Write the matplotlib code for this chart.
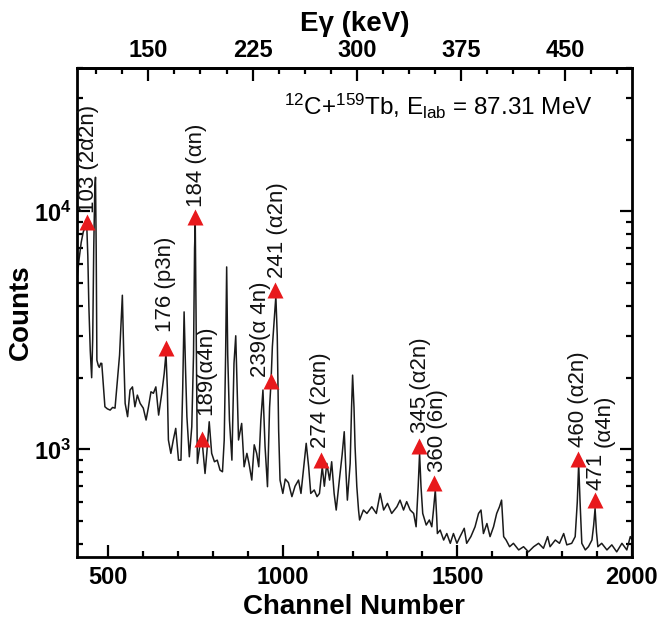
import matplotlib
matplotlib.use('Agg')
import matplotlib.pyplot as plt
from matplotlib.ticker import FixedLocator, MultipleLocator, LogLocator, NullFormatter, FixedFormatter

plt.rcParams['font.family'] = ['Liberation Sans', 'DejaVu Sans']
plt.rcParams['mathtext.default'] = 'regular'

# ---------------- data ----------------
channel = [410, 416, 422, 428, 434, 438, 441, 444, 448, 452, 455, 458, 461, 463, 465, 467,
           471, 474, 478, 481, 485, 490, 497, 505, 512, 519, 526, 532, 536, 540, 544, 548,
           555, 562, 569, 576, 583, 591, 600, 608, 615, 622, 629, 636, 644, 653, 660, 665,
           669, 672, 679, 686, 693, 701, 708, 713, 717, 721, 725, 732, 739, 744, 747, 749,
           751, 755, 763, 770, 777, 782, 789, 796, 804, 812, 820, 827, 832, 836, 839, 842,
           847, 854, 860, 865, 869, 873, 882, 889, 897, 903, 911, 918, 925, 931, 937, 943,
           949, 956, 962, 966, 970, 976, 980, 984, 988, 992, 1000, 1007, 1016, 1026, 1035, 1045,
           1052, 1059, 1067, 1074, 1080, 1090, 1098, 1105, 1113, 1119, 1126, 1134, 1140, 1147, 1153, 1162,
           1170, 1176, 1181, 1185, 1193, 1197, 1200, 1204, 1207, 1212, 1217, 1220, 1231, 1241, 1255, 1268,
           1279, 1289, 1300, 1312, 1327, 1336, 1346, 1355, 1365, 1375, 1382, 1388, 1392, 1396, 1401, 1411,
           1420, 1427, 1432, 1437, 1441, 1443, 1451, 1461, 1470, 1480, 1489, 1499, 1508, 1520, 1527, 1539,
           1551, 1561, 1568, 1575, 1585, 1594, 1604, 1613, 1621, 1627, 1633, 1640, 1650, 1661, 1676, 1690,
           1704, 1719, 1733, 1747, 1759, 1766, 1781, 1793, 1805, 1814, 1828, 1838, 1844, 1848, 1852, 1857,
           1867, 1876, 1886, 1891, 1895, 1899, 1903, 1914, 1929, 1943, 1957, 1972, 1986, 1996, 2000]
counts = [5200, 6300, 7400, 8200, 8600, 8700, 6500, 4000, 2600, 2000, 2900, 7000, 12500, 13900, 7000, 2370,
          2250, 2210, 2300, 2296, 1900, 1510, 1480, 1462, 1500, 1490, 1955, 2490, 3300, 4440, 2500, 1560,
          1372, 1775, 1830, 1510, 1690, 1560, 1490, 1328, 1510, 1745, 1720, 1830, 1393, 1720, 2085, 2530,
          1800, 1095, 962, 1095, 1225, 901, 901, 1800, 3780, 2200, 1372, 931, 1245, 2500, 7000, 8800,
          4000, 873, 1060, 1030, 792, 962, 1306, 962, 887, 901, 818, 805, 1095, 2500, 5840, 2500,
          1328, 901, 2296, 3000, 1800, 1095, 1285, 845, 962, 873, 743, 1045, 962, 845, 1328, 1775,
          1030, 697, 1500, 1900, 2700, 3600, 4400, 3000, 1200, 743, 653, 750, 725, 633, 700, 743,
          653, 818, 1060, 845, 653, 675, 633, 653, 845, 700, 873, 743, 887, 653, 556, 743,
          950, 1186, 800, 612, 873, 1500, 2050, 1500, 1030, 700, 556, 505, 556, 538, 574, 538,
          653, 556, 593, 538, 574, 612, 556, 603, 556, 538, 473, 700, 962, 700, 538, 481,
          505, 473, 560, 675, 520, 443, 458, 416, 443, 403, 443, 403, 430, 466, 403, 430,
          473, 538, 556, 443, 488, 430, 473, 538, 574, 612, 430, 416, 390, 403, 378, 390,
          371, 390, 403, 384, 430, 390, 416, 403, 443, 397, 403, 430, 600, 873, 600, 403,
          378, 390, 416, 480, 565, 450, 390, 403, 378, 397, 371, 403, 378, 430, 420]

peak_labels = ['103 (2\u03b12n)', '184 (\u03b1n)', '176 (p3n)', '189(\u03b14n)', '239(\u03b1 4n)',
               '241 (\u03b12n)', '274 (2\u03b1n)', '345 (\u03b12n)', '360 (6n)', '460 (\u03b12n)',
               '471 (\u03b14n)']
peak_channel = [438, 748.6, 665.4, 768, 965.6, 978, 1110, 1391.6, 1434.6, 1847.5, 1893.4]
peak_counts = [9020, 9460, 2656, 1101, 1940, 4663, 902, 1035, 724, 910, 612]

energy_ticks = [150, 225, 300, 375, 450]
bottom_ticks = [500, 1000, 1500, 2000]
y_ticks = [1e3, 1e4]
y_ticklabels = ['10$^{3}$', '10$^{4}$']

# layout for peak labels (pixels: dx, dy above marker centre; sideways shift of the reaction part)
label_offsets = [(2, 9), (1, 10), (-1, 16), (4, 24), (-10, 4), (2, 12), (-1, 12), (1, 13), (3, 11), (0, 12), (1, 10)]
reaction_shift = [0, 0, 0, 0, 0, 0, 0, 0, 0, 0, 9]

# energy calibration for top axis (channel = a*E + b)
cal_a, cal_b = 3.981, 17.5

# ---------------- figure ----------------
W, H = 659, 631
fig = plt.figure(figsize=(W / 100, H / 100), dpi=100)
ax = fig.add_axes([77 / W, 1 - 557.3 / H, (631.7 - 77) / W, (557.3 - 68) / H])

ax.plot(channel, counts, color='#1a1a1a', lw=1.1)
ax.plot(peak_channel, peak_counts, linestyle='none', marker='^', ms=12, color='#e8191c', mec='none', zorder=5)

px2pt = 72 / 100
lab_fs = 16
for lab, x, y, (dx, dy), sh in zip(peak_labels, peak_channel, peak_counts, label_offsets, reaction_shift):
    if sh == 0:
        ax.annotate(lab, xy=(x, y), xytext=(dx * px2pt, dy * px2pt), textcoords='offset points',
                    rotation=90, ha='center', va='bottom', fontsize=lab_fs, color='#111111')
    else:
        num, reac = lab.split(' ', 1)
        t1 = ax.annotate(num, xy=(x, y), xytext=(dx * px2pt, dy * px2pt), textcoords='offset points',
                         rotation=90, ha='center', va='bottom', fontsize=lab_fs, color='#111111')
        num_len = len(num) * 0.556 * lab_fs / px2pt + 0.278 * lab_fs / px2pt
        ax.annotate(reac, xy=(x, y), xytext=((dx + sh) * px2pt, (dy + num_len) * px2pt),
                    textcoords='offset points', rotation=90, ha='center', va='bottom',
                    fontsize=lab_fs, color='#111111')

ax.set_yscale('log')
ax.set_xlim(410, 2000)
ax.set_ylim(352, 40000)

ax.xaxis.set_major_locator(FixedLocator(bottom_ticks))
ax.xaxis.set_minor_locator(MultipleLocator(100))
ax.yaxis.set_major_locator(FixedLocator(y_ticks))
ax.yaxis.set_major_formatter(FixedFormatter(y_ticklabels))
ax.yaxis.set_minor_locator(LogLocator(base=10, subs=range(2, 10)))
ax.yaxis.set_minor_formatter(NullFormatter())

for s in ax.spines.values():
    s.set_linewidth(2.0)

ax.tick_params(which='both', direction='in', right=True, top=False, width=1.6)
ax.tick_params(which='major', length=9)
ax.tick_params(which='minor', length=4.5)
ax.tick_params(axis='x', which='major', labelsize=17, pad=6)
ax.tick_params(axis='y', which='major', labelsize=17, pad=4)
for t in ax.get_xticklabels() + ax.get_yticklabels():
    t.set_fontweight('bold')

ax.set_xlabel('Channel Number', fontsize=20, fontweight='bold', labelpad=4)
ax.set_ylabel('Counts', fontsize=20, fontweight='bold', labelpad=0)

# top energy axis
sec = ax.secondary_xaxis('top', functions=(lambda c: (c - cal_b) / cal_a, lambda e: cal_a * e + cal_b))
sec.xaxis.set_major_locator(FixedLocator(energy_ticks))
sec.xaxis.set_minor_locator(MultipleLocator(18.75))
sec.tick_params(which='both', direction='in', width=1.6, labelsize=17, pad=4)
sec.tick_params(which='major', length=9)
sec.tick_params(which='minor', length=4.5)
for t in sec.get_xticklabels():
    t.set_fontweight('bold')
sec.spines['top'].set_linewidth(2.0)
sec.set_xlabel('E\u03b3 (keV)', fontsize=20, fontweight='bold', labelpad=6)

ax.text(0.930, 0.951, '$^{12}$C+$^{159}$Tb, E$_{lab}$ = 87.31 MeV', transform=ax.transAxes,
        ha='right', va='top', fontsize=17.5)

fig.savefig('out.png', dpi=100)
